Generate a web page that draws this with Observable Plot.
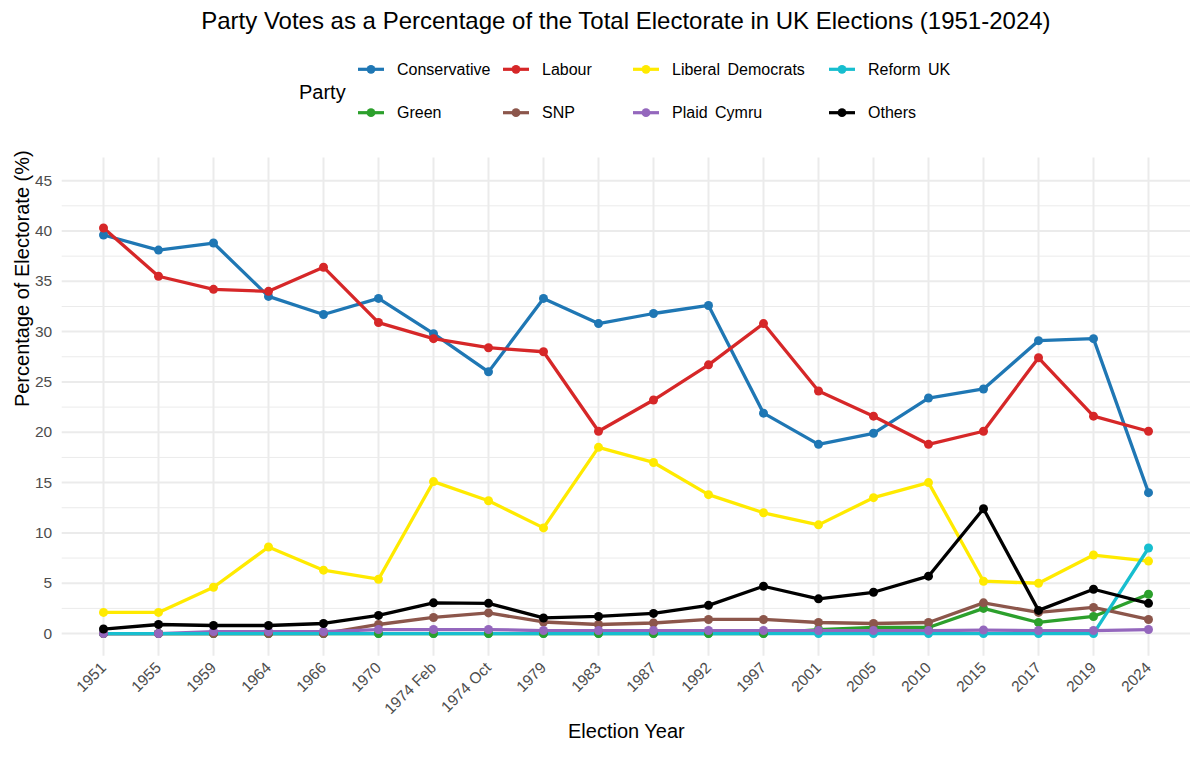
<!DOCTYPE html>
<html><head><meta charset="utf-8">
<script src="https://cdn.jsdelivr.net/npm/d3@7"></script>
<script src="https://cdn.jsdelivr.net/npm/@observablehq/plot@0.6"></script>
<style>
html,body{margin:0;padding:0;background:#fff;}
#wrap{position:relative;width:1200px;height:759px;overflow:hidden;font-family:"Liberation Sans",Arial,sans-serif;}
#head{position:absolute;left:0;top:0;}
#chart{position:absolute;left:0;top:140px;}
</style></head><body>
<div id="wrap"><svg id="head" width="1200" height="140"></svg><div id="chart"></div></div>
<script>
const titleText = "Party Votes as a Percentage of the Total Electorate in UK Elections (1951-2024)";
const xTitle = "Election Year";
const yTitle = "Percentage of Electorate (%)";
const legendTitle = "Party";

const years = ["1951","1955","1959","1964","1966","1970","1974 Feb","1974 Oct","1979","1983","1987","1992","1997","2001","2005","2010","2015","2017","2019","2024"];
const yTicks = [0,5,10,15,20,25,30,35,40,45];
const yMinorTicks = [2.5,7.5,12.5,17.5,22.5,27.5,32.5,37.5,42.5];

// legend order (row by row)
const parties = ["Conservative","Labour","Liberal Democrats","Reform UK","Green","SNP","Plaid Cymru","Others"];
const partyColors = ["#1f77b4","#d62728","#ffea00","#17becf","#2ca02c","#8c564b","#9467bd","#000000"];

const conservative = [39.6,38.1,38.8,33.5,31.7,33.3,29.8,26.0,33.3,30.8,31.8,32.6,21.9,18.8,19.9,23.4,24.3,29.1,29.3,14.0];
const labour       = [40.3,35.5,34.2,34.0,36.4,30.9,29.3,28.4,28.0,20.1,23.2,26.7,30.8,24.1,21.6,18.8,20.1,27.4,21.6,20.1];
const libDems      = [2.1,2.1,4.6,8.6,6.3,5.4,15.1,13.2,10.5,18.5,17.0,13.8,12.0,10.8,13.5,15.0,5.2,5.0,7.8,7.2];
const reformUK     = [0,0,0,0,0,0,0,0,0,0,0,0,0,0,0,0,0,0,0,8.5];
const green        = [0,0,0,0,0,0,0,0,0,0,0,0,0,0.4,0.6,0.6,2.5,1.1,1.7,3.9];
const snp          = [0,0,0,0,0,0.9,1.6,2.05,1.15,0.9,1.05,1.4,1.4,1.1,1.0,1.1,3.05,2.1,2.6,1.4];
const plaidCymru   = [0,0,0.2,0.2,0.2,0.4,0.4,0.4,0.3,0.3,0.3,0.3,0.3,0.3,0.3,0.3,0.35,0.3,0.3,0.4];
const others       = [0.45,0.9,0.8,0.8,1.0,1.8,3.05,3.0,1.55,1.7,2.0,2.8,4.7,3.45,4.1,5.7,12.4,2.3,4.4,3.0];

const seriesByParty = {
  "Conservative": conservative, "Labour": labour, "Liberal Democrats": libDems,
  "Reform UK": reformUK, "Green": green, "SNP": snp, "Plaid Cymru": plaidCymru, "Others": others
};
const lineOrder = ["Conservative","Labour","Liberal Democrats","Green","SNP","Plaid Cymru","Reform UK","Others"];
const dotOrder  = ["Conservative","Labour","Liberal Democrats","Reform UK","Green","SNP","Plaid Cymru","Others"];
const toLong = order => order.flatMap(p => years.map((yr,i) => ({party:p, year:yr, value:seriesByParty[p][i]})));
const lineData = toLong(lineOrder);
const dotData = toLong(dotOrder);

// ---- header: title + legend ----
const font = '"Liberation Sans", Arial, sans-serif';
const head = d3.select("#head");
head.append("text").attr("x",625.9).attr("y",29).attr("text-anchor","middle")
  .attr("font-family",font).attr("font-size",24).attr("fill","#000").text(titleText);
head.append("text").attr("x",299).attr("y",92).attr("dominant-baseline","central")
  .attr("font-family",font).attr("font-size",20).attr("fill","#000").text(legendTitle);
const colX = [358,503,633,829];
const rowY = [69.3,112.7];
parties.forEach((p,i) => {
  const cx = colX[i % 4], cy = rowY[Math.floor(i / 4)];
  const g = head.append("g");
  g.append("line").attr("x1",cx).attr("x2",cx+26).attr("y1",cy).attr("y2",cy)
    .attr("stroke",partyColors[i]).attr("stroke-width",3.2);
  g.append("circle").attr("cx",cx+13).attr("cy",cy).attr("r",4.4).attr("fill",partyColors[i]);
  g.append("text").attr("x",cx+39).attr("y",cy).attr("dominant-baseline","central")
    .attr("font-family",font).attr("font-size",16).attr("word-spacing","3px").attr("fill","#000").text(p);
});

// ---- chart ----
const chart = Plot.plot({
  width: 1200, height: 619,
  marginTop: 17.5, marginBottom: 103.3, marginLeft: 61.7, marginRight: 10,
  style: {fontFamily: font, fontSize: "15.5px", background: "#fff", overflow: "visible"},
  x: {type: "point", domain: years, padding: 0.6},
  y: {domain: [-2.25, 47.25]},
  color: {domain: parties, range: partyColors},
  marks: [
    Plot.ruleY(yMinorTicks, {stroke: "#ebebeb", strokeWidth: 1}),
    Plot.ruleY(yTicks, {stroke: "#ebebeb", strokeWidth: 2}),
    Plot.ruleX(years, {stroke: "#ebebeb", strokeWidth: 2}),
    Plot.axisY(yTicks, {tickSize: 0, tickPadding: 10, color: "#4d4d4d", fill: "#4d4d4d", label: null}),
    Plot.axisX(years, {tickSize: 0, tickPadding: 9, tickRotate: -45, color: "#4d4d4d", fill: "#4d4d4d", label: null}),
    Plot.line(lineData, {x: "year", y: "value", z: "party", stroke: "party", strokeWidth: 3.3}),
    Plot.dot(dotData, {x: "year", y: "value", fill: "party", r: 4.5}),
    Plot.text([yTitle], {text: d => d, frameAnchor: "left", dx: -40, rotate: -90, fontSize: 20, fill: "#000"}),
    Plot.text([xTitle], {text: d => d, frameAnchor: "bottom", dy: 82, fontSize: 20, fill: "#000"})
  ]
});
document.getElementById("chart").appendChild(chart);
</script>
</body></html>
